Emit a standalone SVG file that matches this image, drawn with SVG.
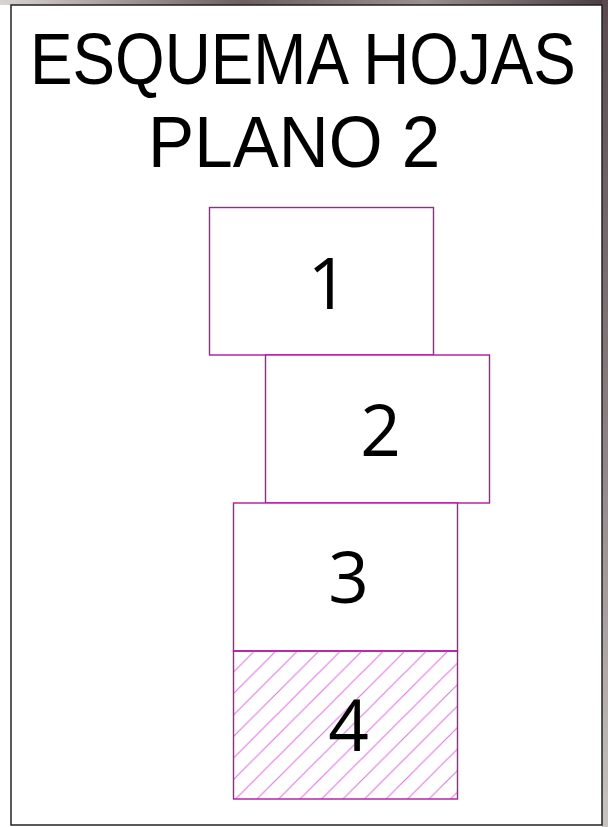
<svg xmlns="http://www.w3.org/2000/svg" width="608" height="827" viewBox="0 0 608 827">
  <style>
    .sheet { fill: #ffffff; stroke: #b0189e; stroke-width: 1.4; }
    .num { font-family: "Open Sans", "Liberation Sans", sans-serif; font-size: 71px; fill: #000; text-anchor: middle; }
    .title { font-family: "Liberation Sans", Arial, sans-serif; font-size: 73px; fill: #000; }
  </style>
  <defs>
    <linearGradient id="bgTop" x1="0" y1="0" x2="1" y2="0">
      <stop offset="0" stop-color="#d8d4d2"/>
      <stop offset="0.4" stop-color="#6e5e60"/>
      <stop offset="0.7" stop-color="#9a8f90"/>
      <stop offset="1" stop-color="#4a3c40"/>
    </linearGradient>
    <linearGradient id="bgRight" x1="0" y1="0" x2="0" y2="1">
      <stop offset="0" stop-color="#5a4a4e"/>
      <stop offset="0.5" stop-color="#8a7e80"/>
      <stop offset="1" stop-color="#c8c4c2"/>
    </linearGradient>
    <pattern id="hatch" patternUnits="userSpaceOnUse" width="21.5" height="21.5" x="233" y="651">
      <path d="M-2,2 L2,-2 M0,21.5 L21.5,0 M19.5,23.5 L23.5,19.5" stroke="#dc7ede" stroke-width="1.2"/>
    </pattern>
  </defs>

  <rect x="0" y="0" width="608" height="827" fill="#ffffff"/>
  <rect x="0" y="0" width="608" height="5" fill="url(#bgTop)"/>
  <rect x="602" y="0" width="6" height="827" fill="url(#bgRight)"/>
  <rect x="11" y="5" width="591" height="820" fill="#ffffff" stroke="#222" stroke-width="1.5"/>

  <g id="title">
    <text class="title" transform="translate(30,84) scale(0.874,1)" x="0" y="0">ESQUEMA HOJAS</text>
    <text class="title" transform="translate(148,167) scale(0.948,1)" x="0" y="0">PLANO 2</text>
  </g>

  <g id="connectors"></g>

  <g id="sheet1">
    <rect class="sheet" x="209.5" y="207.5" width="224" height="147.5"/>
    <text class="num" x="328" y="309">1</text>
  </g>
  <g id="sheet2">
    <rect class="sheet" x="265.5" y="355" width="224" height="148"/>
    <text class="num" x="380.5" y="456">2</text>
  </g>
  <g id="sheet3">
    <rect class="sheet" x="233.5" y="503" width="224" height="148"/>
    <text class="num" x="348.5" y="603">3</text>
  </g>
  <g id="sheet4">
    <rect x="233.5" y="651" width="224" height="148" fill="url(#hatch)" stroke="#b0189e" stroke-width="1.4"/>
    <text class="num" x="348.5" y="751">4</text>
  </g>
</svg>
